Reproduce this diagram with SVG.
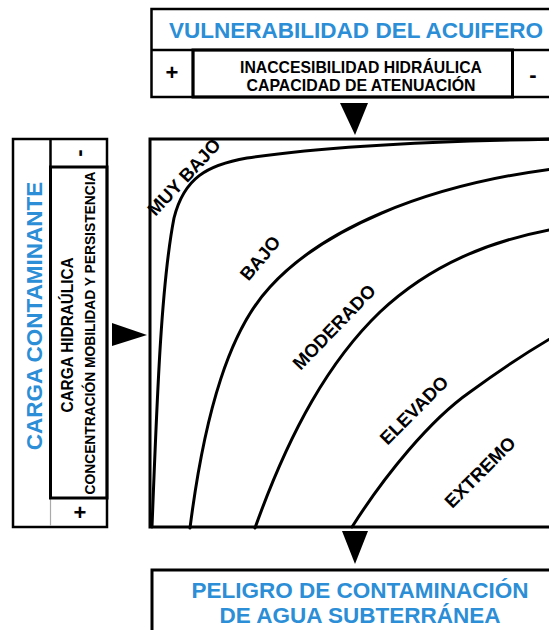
<svg xmlns="http://www.w3.org/2000/svg" width="549" height="630" viewBox="0 0 549 630">
  <style>
    .frame { fill: none; stroke: #000; stroke-width: 2.5; }
    .thick { fill: none; stroke: #000; stroke-width: 3; }
    .grey { fill: none; stroke: #aaa; stroke-width: 1.2; }
    .curve { fill: none; stroke: #000; stroke-width: 3; stroke-linecap: round; }
    .tri { fill: #000; }
    .title { font-family: "Liberation Sans", Arial, sans-serif; font-weight: bold; font-size: 22.5px; fill: #2b8ed6; }
    .sub { font-family: "Liberation Sans", Arial, sans-serif; font-weight: bold; font-size: 16.5px; fill: #000; }
    .small { font-family: "Liberation Sans", Arial, sans-serif; font-weight: bold; font-size: 15px; fill: #000; }
    .sign { font-family: "Liberation Sans", Arial, sans-serif; font-weight: bold; font-size: 22px; fill: #000; }
    .zone { font-family: "Liberation Sans", Arial, sans-serif; font-weight: bold; font-size: 18.5px; fill: #000; }
  </style>
  <rect width="549" height="630" fill="#fff"/>

  <!-- aquifer vulnerability box -->
  <g id="vulnerabilidad">
    <rect class="frame" x="151.5" y="9" width="420" height="88"/>
    <line class="frame" x1="151.5" y1="50" x2="571.5" y2="50"/>
    <line class="frame" x1="193" y1="50" x2="193" y2="97"/>
    <rect class="thick" x="193" y="50" width="319.5" height="47"/>
    <text class="title" x="169" y="38" textLength="374" lengthAdjust="spacingAndGlyphs">VULNERABILIDAD DEL ACUIFERO</text>
    <text class="sub" x="361" y="73" text-anchor="middle" textLength="242" lengthAdjust="spacingAndGlyphs">INACCESIBILIDAD HIDRÁULICA</text>
    <text class="sub" x="361" y="91" text-anchor="middle" textLength="229" lengthAdjust="spacingAndGlyphs">CAPACIDAD DE ATENUACIÓN</text>
    <text class="sign" x="172" y="80" text-anchor="middle">+</text>
    <text class="sign" x="533" y="82" text-anchor="middle">-</text>
  </g>

  <!-- contaminant load box -->
  <g id="carga">
    <rect class="frame" x="13" y="139" width="94" height="388"/>
    <line class="frame" x1="50.5" y1="139" x2="50.5" y2="498"/>
    <line class="grey" x1="50.5" y1="498" x2="50.5" y2="526"/>
    <rect class="thick" x="50.5" y="167" width="56.5" height="331"/>
    <text class="title" transform="translate(42,316) rotate(-90)" text-anchor="middle">CARGA CONTAMINANTE</text>
    <text class="sub" transform="translate(73,335) rotate(-90)" text-anchor="middle" textLength="155" lengthAdjust="spacingAndGlyphs">CARGA HIDRAÚLICA</text>
    <text class="small" transform="translate(95,333) rotate(-90)" text-anchor="middle" textLength="323" lengthAdjust="spacingAndGlyphs">CONCENTRACIÓN MOBILIDAD Y PERSISTENCIA</text>
    <text class="sign" transform="translate(86,153) rotate(-90)" text-anchor="middle">-</text>
    <text class="sign" x="80" y="520" text-anchor="middle">+</text>
  </g>

  <!-- hazard classification chart -->
  <g id="grafico">
    <rect class="thick" x="150" y="139" width="420" height="388"/>
    <path class="curve" d="M152,527 C157,400 161,285 174,218 C184,178 207,165 247,158 C320,147 420,141 560,139"/>
    <path class="curve" d="M190,528 C205,410 230,330 270,287 C320,232 420,185 560,168"/>
    <path class="curve" d="M255,528 C290,430 330,360 380,312 C430,265 490,240 560,228"/>
    <path class="curve" d="M352,527 C385,475 430,420 470,392 C500,370 530,350 560,333"/>
    <text class="zone" transform="translate(184,177) rotate(-47)" text-anchor="middle" dominant-baseline="central">MUY BAJO</text>
    <text class="zone" transform="translate(260,258) rotate(-50)" text-anchor="middle" dominant-baseline="central">BAJO</text>
    <text class="zone" transform="translate(334,327) rotate(-46)" text-anchor="middle" dominant-baseline="central">MODERADO</text>
    <text class="zone" transform="translate(414,410) rotate(-45)" text-anchor="middle" dominant-baseline="central">ELEVADO</text>
    <text class="zone" transform="translate(480,472) rotate(-45)" text-anchor="middle" dominant-baseline="central">EXTREMO</text>
  </g>

  <!-- groundwater contamination hazard box -->
  <g id="peligro">
    <rect class="thick" x="152" y="570" width="420" height="80"/>
    <text class="title" x="360" y="598" text-anchor="middle">PELIGRO DE CONTAMINACIÓN</text>
    <text class="title" x="360" y="623" text-anchor="middle">DE AGUA SUBTERRÁNEA</text>
  </g>

  <!-- flow arrows -->
  <g id="conectores">
    <polygon class="tri" points="340,103 368,103 355,135"/>
    <polygon class="tri" points="112,323 112,346 147,335"/>
    <polygon class="tri" points="342,531 368,531 355,564"/>
  </g>
</svg>
